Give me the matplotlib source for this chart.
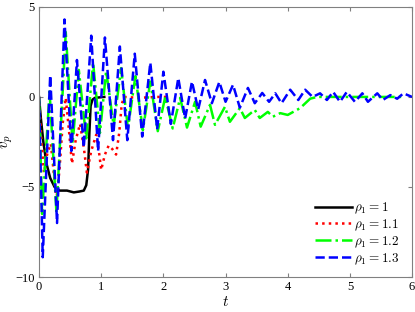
import numpy as np
import matplotlib.pyplot as plt

plt.rcParams['font.family'] = ['Liberation Serif', 'DejaVu Serif']
plt.rcParams['mathtext.fontset'] = 'cm'

# rho_1 = 1
t1 = [0, 0.03, 0.07, 0.12, 0.18, 0.25, 0.33, 0.45, 0.56, 0.65, 0.72, 0.76, 0.79, 0.81, 0.83, 0.86, 0.9, 1.05]
v1 = [0, -1.2, -2.5, -3.7, -4.5, -5.0, -5.2, -5.2, -5.3, -5.25, -5.2, -4.9, -4.0, -2.0, -0.5, -0.15, -0.05, 0]

# rho_1 = 1.1
t2 = [0, 0.04, 0.08, 0.13, 0.19, 0.24, 0.28, 0.33, 0.38, 0.43, 0.48, 0.53, 0.59, 0.66, 0.72, 0.77,
      0.84, 0.92, 0.97, 1.0, 1.06, 1.12, 1.18, 1.24, 1.29, 1.33, 1.37, 1.6, 1.9, 2.08]
v2 = [0, -2.5, -4.2, -3.2, -2.6, -4.3, -5.7, -4.0, -1.5, -0.05, -1.8, -3.7, -2.4, -1.5, -2.8, -4.2,
      -3.0, -2.1, -3.2, -4.05, -3.2, -2.7, -2.9, -3.2, -2.0, -0.4, 0, -0.05, 0, 0]

# rho_1 = 1.2
t3 = [0, 0.05, 0.17, 0.28, 0.43, 0.54, 0.64, 0.76, 0.87, 0.98, 1.08, 1.2, 1.32, 1.43, 1.55, 1.67,
      1.79, 1.91, 2.03, 2.15, 2.27, 2.38, 2.51, 2.6, 2.75, 2.83, 2.99, 3.07, 3.23, 3.31, 3.47, 3.55,
      3.68, 3.76, 3.88, 4.0, 4.2, 4.36, 4.47, 5.0, 5.85]
v3 = [0, -6.5, 0.3, -6.4, 3.6, -2.6, 1.5, -2.3, 1.9, -2.0, 1.45, -1.6, 1.6, -1.75, 1.15, -1.85,
      0.85, -1.9, 0.0, -1.75, -0.05, -1.7, -0.27, -1.65, -0.44, -1.55, -0.55, -1.38, -0.62, -1.17, -0.72, -1.17,
      -0.83, -1.1, -0.9, -1.0, -0.62, -0.1, 0, 0, 0]

# rho_1 = 1.3
t4 = [0, 0.06, 0.18, 0.29, 0.41, 0.52, 0.61, 0.72, 0.84, 0.95, 1.06, 1.19, 1.30, 1.42, 1.54, 1.66,
      1.79, 1.9, 2.0, 2.12, 2.24, 2.35, 2.46, 2.56, 2.67, 2.78, 2.9, 3.0, 3.12, 3.23, 3.36, 3.47,
      3.59, 3.7, 3.8, 3.9, 4.04, 4.17, 4.28, 4.4, 4.52, 4.63, 4.73, 4.84, 4.95, 5.08, 5.2, 5.29,
      5.44, 5.53, 5.65, 5.76, 5.86, 6.0]
v4 = [0, -8.9, 1.2, -7.0, 4.3, -3.0, 2.05, -2.8, 3.4, -3.0, 3.3, -2.4, 2.8, -2.4, 2.4, -2.2,
      1.9, -1.8, 1.4, -1.5, 1.05, -1.2, 0.85, -0.7, 0.94, -0.35, 0.83, -0.27, 0.67, -0.6, 0.5, -0.35,
      0.22, -0.27, 0.2, -0.35, 0.4, -0.17, 0.4, 0.0, 0.2, -0.17, 0.28, -0.27, 0.28, -0.27, 0.2, -0.27,
      0.2, -0.17, 0.1, -0.1, 0.2, 0.0]

fig = plt.figure(figsize=(4.15, 3.12), dpi=100)
ax = fig.add_axes([0.094, 0.112, 0.899, 0.866])

ax.plot(t1, v1, color='k', ls='-', lw=1.8, label=r'$\rho_1 = 1$')
ax.plot(t2, v2, color='r', ls=':', lw=1.8, label=r'$\rho_1 = 1.1$')
ax.plot(t3, v3, color='#00ff00', ls='-.', lw=1.8, label=r'$\rho_1 = 1.2$')
ax.plot(t4, v4, color='b', ls='--', lw=1.8, label=r'$\rho_1 = 1.3$')

ax.set_xlim(0, 6)
ax.set_ylim(-10, 5)
ax.set_xticks([0, 1, 2, 3, 4, 5, 6])
ax.set_yticks([-10, -5, 0, 5])
ax.tick_params(direction='in', top=True, right=True, labelsize=9, length=3,
               color='#808080', pad=3)
for s in ax.spines.values():
    s.set_color('#808080')
    s.set_linewidth(0.8)

ax.set_xlabel(r'$t$', fontsize=11, labelpad=1)
ax.set_ylabel(r'$v_p$', fontsize=11, labelpad=0)

ax.legend(loc='lower right', frameon=False, fontsize=9.5, handlelength=2.8,
          handletextpad=0.2, labelspacing=0.12, borderaxespad=0.7,
          bbox_to_anchor=(1.006, -0.015))

fig.savefig('out.png', dpi=100)
